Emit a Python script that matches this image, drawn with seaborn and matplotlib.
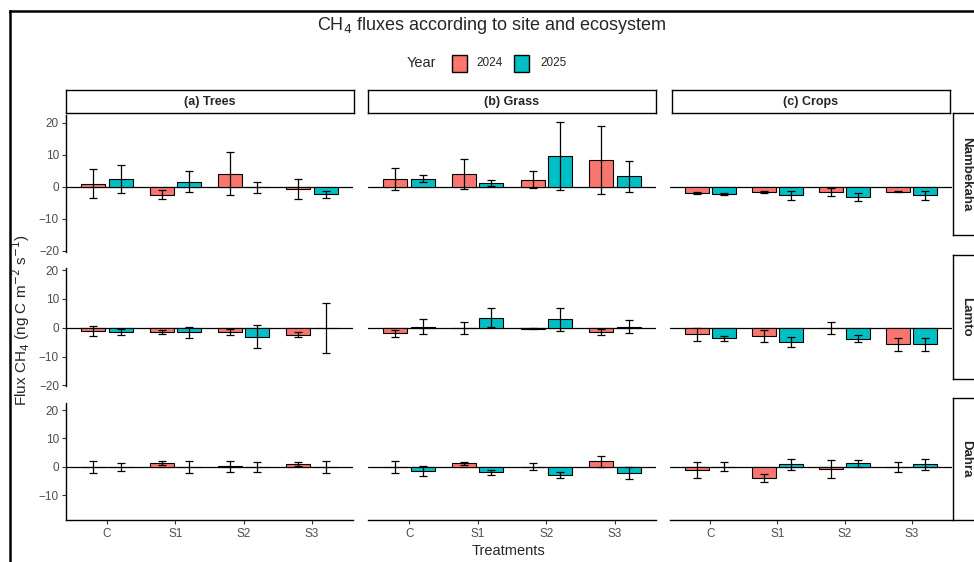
import matplotlib
matplotlib.use("Agg")
import matplotlib.pyplot as plt
import seaborn as sns
import pandas as pd
from matplotlib.patches import Rectangle
from matplotlib.lines import Line2D

# ---------------- data ----------------
treatments = ["C", "S1", "S2", "S3"]
ecosystems = ["(a) Trees", "(b) Grass", "(c) Crops"]
sites = ["Nambekaha", "Lamto", "Dahra"]
years = ["2024", "2025"]
year_colors = ["#F8766D", "#00BFC4"]

# each list: Trees C,S1,S2,S3 | Grass C,S1,S2,S3 | Crops C,S1,S2,S3
nambekaha_2024_mean = [1.0, -2.5, 4.1, -0.7, 2.4, 4.1, 2.2, 8.3, -1.9, -1.6, -1.7, -1.5]
nambekaha_2024_se = [4.6, 1.35, 6.7, 3.2, 3.45, 4.7, 2.6, 10.55, 0.4, 0.3, 1.25, 0.3]
nambekaha_2025_mean = [2.4, 1.5, -0.2, -2.4, 2.5, 1.2, 9.7, 3.2, -2.2, -2.7, -3.3, -2.7]
nambekaha_2025_se = [4.5, 3.25, 1.8, 1.15, 1.1, 0.9, 10.65, 4.75, 0.3, 1.4, 1.2, 1.5]

lamto_2024_mean = [-1.0, -1.5, -1.5, -2.4, -1.9, -0.2, -0.3, -1.4, -2.3, -2.9, -0.2, -5.7]
lamto_2024_se = [1.7, 0.6, 1.1, 0.8, 1.15, 2.1, 0.2, 1.1, 2.2, 2.1, 2.1, 2.3]
lamto_2025_mean = [-1.5, -1.6, -3.1, 0.0, 0.3, 3.5, 2.9, 0.4, -3.7, -5.1, -3.8, -5.7]
lamto_2025_se = [0.9, 1.9, 3.95, 8.65, 2.6, 3.35, 3.95, 2.15, 0.9, 1.75, 1.15, 2.2]

dahra_2024_mean = [-0.1, 1.3, 0.2, 0.95, 0.0, 1.2, 0.05, 2.0, -1.05, -4.1, -0.8, -0.2]
dahra_2024_se = [2.0, 0.6, 1.9, 0.65, 2.15, 0.55, 1.35, 1.95, 2.85, 1.45, 3.25, 1.7]
dahra_2025_mean = [-0.1, -0.1, -0.1, -0.1, -1.5, -2.0, -2.9, -2.2, 0.0, 0.8, 1.2, 0.8]
dahra_2025_se = [1.25, 2.0, 1.8, 2.0, 1.6, 0.75, 1.0, 2.1, 1.6, 2.05, 1.2, 1.8]

series = {
    ("Nambekaha", "2024"): (nambekaha_2024_mean, nambekaha_2024_se),
    ("Nambekaha", "2025"): (nambekaha_2025_mean, nambekaha_2025_se),
    ("Lamto", "2024"): (lamto_2024_mean, lamto_2024_se),
    ("Lamto", "2025"): (lamto_2025_mean, lamto_2025_se),
    ("Dahra", "2024"): (dahra_2024_mean, dahra_2024_se),
    ("Dahra", "2025"): (dahra_2025_mean, dahra_2025_se),
}

rows = []
for (site, yr), (means, ses) in series.items():
    k = 0
    for eco in ecosystems:
        for tr in treatments:
            rows.append(dict(Site=site, Year=yr, Ecosystem=eco, Treatment=tr,
                             Flux=means[k], SE=ses[k]))
            k += 1
df = pd.DataFrame(rows)

# ---------------- layout ----------------
W, H = 974, 562
def box(x0, y0, x1, y1):
    return [x0 / W, 1 - y1 / H, (x1 - x0) / W, (y1 - y0) / H]

col_x = [(66, 353), (368, 656), (670, 952)]
row_y = [(115, 252), (268, 386), (403, 520)]
row_lim = [(-20.4, 22.4), (-20.2, 20.7), (-18.8, 22.5)]
top_strips = [(66, 354), (368, 656), (672, 950)]
right_strips = [(113, 235), (255, 379), (398, 520)]

sns.set_theme(style="white")
plt.rcParams['font.family'] = ['Liberation Sans', 'DejaVu Sans']

fig = plt.figure(figsize=(W / 100, H / 100), dpi=100)
fig.patch.set_facecolor("white")

gray = "#4D4D4D"
palette = dict(zip(years, year_colors))

for r, site in enumerate(sites):
    for c, eco in enumerate(ecosystems):
        ax = fig.add_axes(box(col_x[c][0], row_y[r][0], col_x[c][1], row_y[r][1]))
        ax.set_facecolor("white")
        sub = df[(df.Site == site) & (df.Ecosystem == eco)]
        ax.axhline(0, color="black", lw=0.9, zorder=0.5)
        sns.barplot(data=sub, x="Treatment", y="Flux", hue="Year",
                    order=treatments, hue_order=years, palette=palette,
                    saturation=1, width=0.8, gap=0.12, errorbar=None,
                    edgecolor="black", linewidth=0.8, legend=False, ax=ax,
                    zorder=2)
        for cont, yr in zip(ax.containers, years):
            s = sub[sub.Year == yr].set_index("Treatment").loc[treatments]
            xs = [b.get_x() + b.get_width() / 2 for b in cont]
            ax.errorbar(xs, s.Flux.values, yerr=s.SE.values, fmt="none",
                        ecolor="black", elinewidth=0.9, capsize=3,
                        capthick=0.9, zorder=3)
        ax.set_xlabel("")
        ax.set_ylabel("")
        for sp in ["top", "right"]:
            ax.spines[sp].set_visible(False)
        ax.spines["left"].set_visible(c == 0)
        ax.spines["bottom"].set_visible(r == 2)
        for sp in ["left", "bottom"]:
            ax.spines[sp].set_color("black")
            ax.spines[sp].set_linewidth(1.0)
        if c == 0:
            ax.set_yticks([-20, -10, 0, 10, 20])
            ax.set_yticklabels(["\u221220", "\u221210", "0", "10", "20"])
            ax.tick_params(axis="y", left=True, length=3, width=0.8,
                           color="#333333", labelsize=8.5, labelcolor=gray, pad=2)
        else:
            ax.tick_params(axis="y", left=False, labelleft=False)
        if r == 2:
            ax.tick_params(axis="x", bottom=True, length=3, width=0.8,
                           color="#333333", labelsize=8.5, labelcolor=gray, pad=3)
        else:
            ax.tick_params(axis="x", bottom=False, labelbottom=False)
        ax.set_xlim(-0.6, 3.6)
        ax.set_ylim(*row_lim[r])

# top strips
for (x0, x1), eco in zip(top_strips, ecosystems):
    sa = fig.add_axes(box(x0, 90, x1, 113))
    sa.set_xticks([]); sa.set_yticks([])
    sa.set_facecolor("white")
    for sp in sa.spines.values():
        sp.set_color("black"); sp.set_linewidth(1.0); sp.set_visible(True)
    sa.text(0.5, 0.5, eco, ha="center", va="center", fontsize=9,
            fontweight="bold", transform=sa.transAxes)

# right strips
for (y0, y1), site in zip(right_strips, sites):
    sa = fig.add_axes(box(953, y0, 985, y1))
    sa.set_xticks([]); sa.set_yticks([])
    sa.set_facecolor("white")
    for sp in sa.spines.values():
        sp.set_color("black"); sp.set_linewidth(1.0); sp.set_visible(True)
    fig.text(966 / W, 1 - (y0 + y1) / 2 / H, site, ha="center", va="center",
             rotation=-90, fontsize=9.5, fontweight="bold")

# title
fig.text(492 / W, 1 - 25 / H, "CH$_4$ fluxes according to site and ecosystem",
         ha="center", va="center", fontsize=13)

# legend
fig.text(407 / W, 1 - 63 / H, "Year", ha="left", va="center", fontsize=10.5)
for (x0, tx), yr, col in zip([(452, 476), (514, 540)], years, year_colors):
    fig.add_artist(Rectangle((x0 / W, 1 - 72 / H), 15 / W, 17 / H,
                             transform=fig.transFigure, facecolor=col,
                             edgecolor="black", linewidth=1.0))
    fig.text(tx / W, 1 - 63 / H, yr, ha="left", va="center", fontsize=8.5)

# axis labels
fig.text(21 / W, 1 - 320 / H, "Flux CH$_4$ (ng C m$^{-2}$ s$^{-1}$)",
         rotation=90, ha="center", va="center", fontsize=11)
fig.text(509 / W, 1 - 551 / H, "Treatments", ha="center", va="center",
         fontsize=10.5)

# outer frame
fig.add_artist(Line2D([10 / W, 10 / W], [0, 1 - 11 / H], transform=fig.transFigure,
                      color="black", lw=1.8, solid_capstyle="projecting"))
fig.add_artist(Line2D([10 / W, 1], [1 - 11 / H, 1 - 11 / H], transform=fig.transFigure,
                      color="black", lw=1.8, solid_capstyle="projecting"))

fig.savefig("out.png", dpi=100, facecolor="white")
